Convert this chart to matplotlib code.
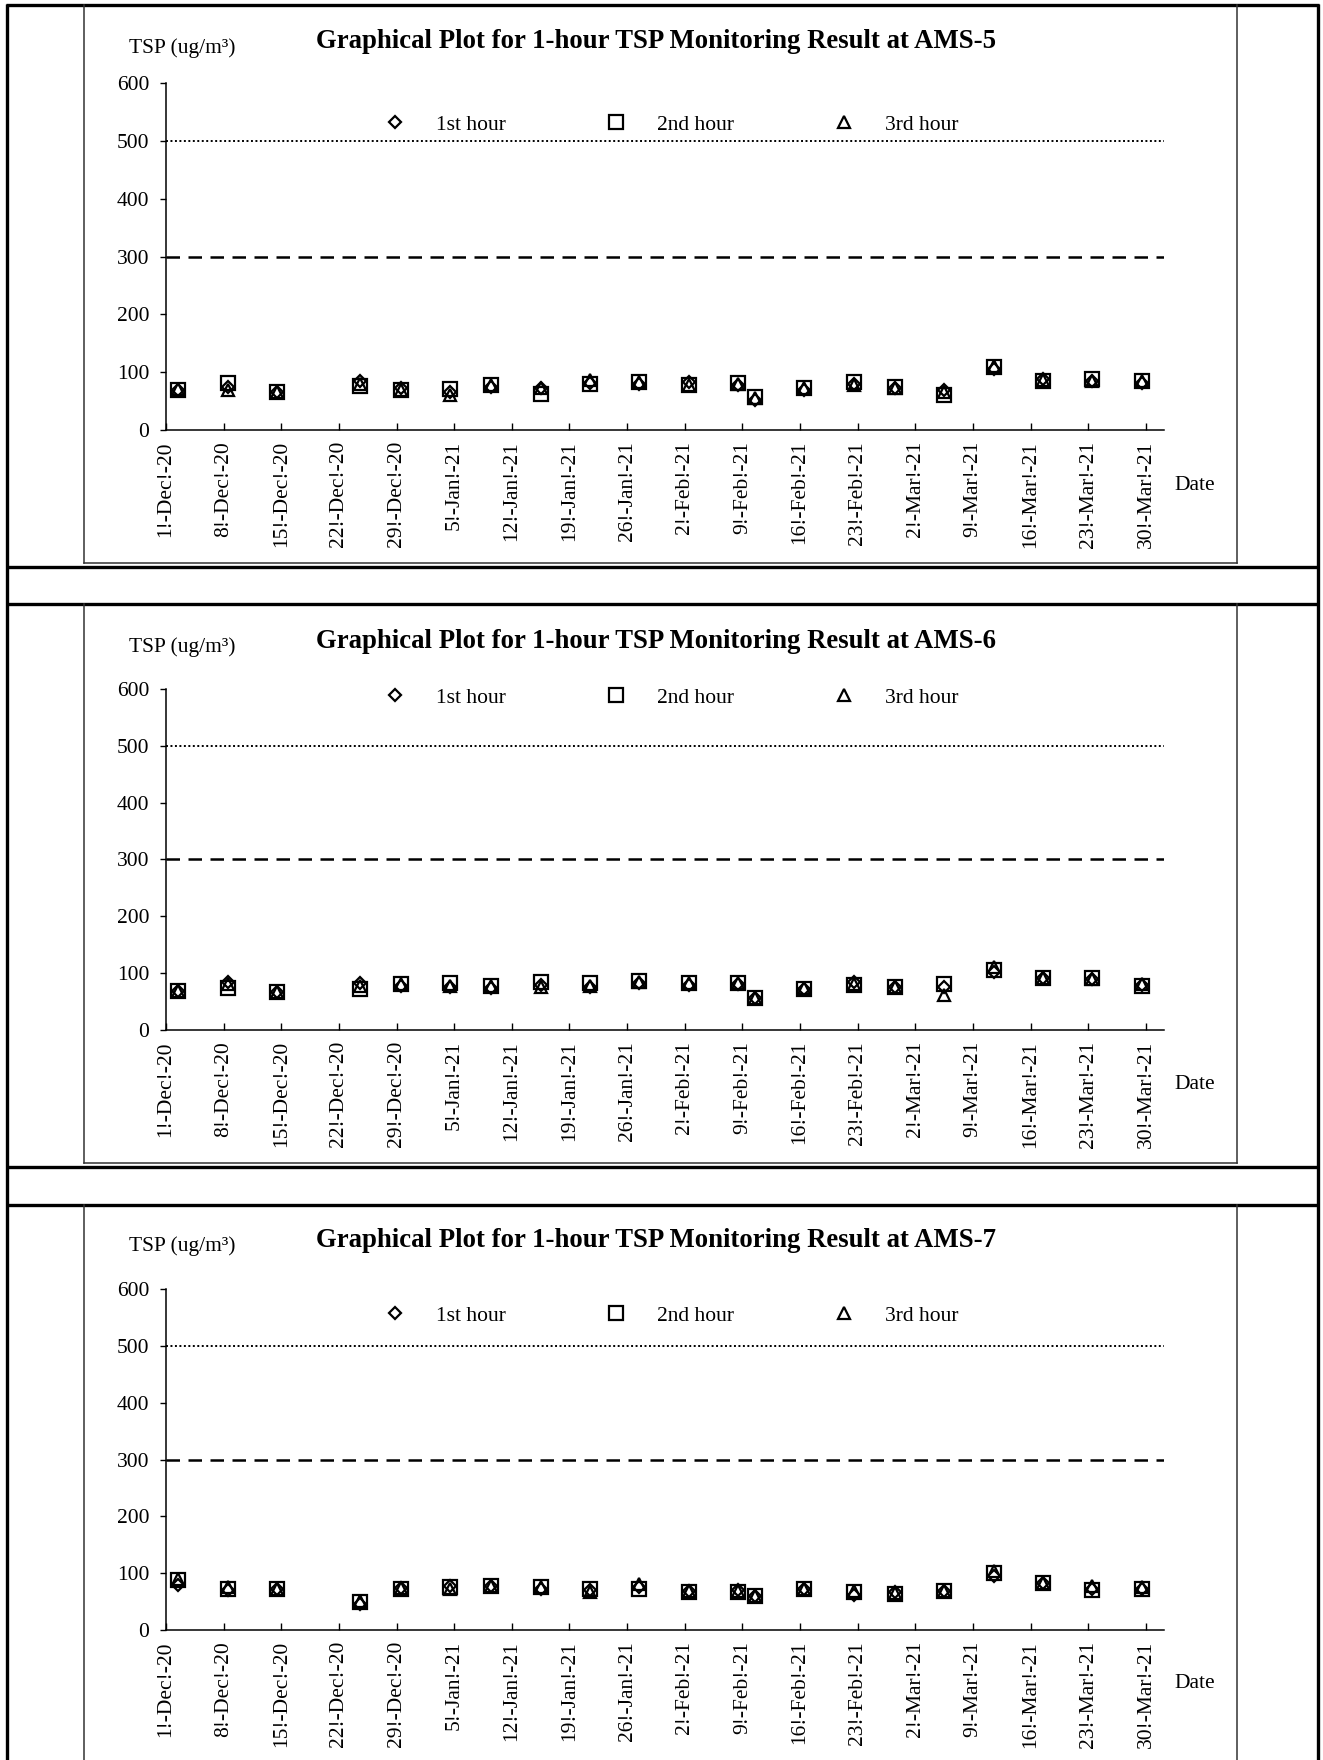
import numpy as np
import pandas as pd
import matplotlib
matplotlib.use("Agg")
import matplotlib.pyplot as plt
import matplotlib.dates as mdates
from matplotlib.lines import Line2D

plt.rcParams["font.family"] = ["Liberation Serif", "DejaVu Serif"]

W, H = 1323, 1760

# sampling dates (same for all stations)
dates = ["2020-12-02", "2020-12-08", "2020-12-14", "2020-12-24", "2020-12-29",
         "2021-01-04", "2021-01-09", "2021-01-15", "2021-01-21", "2021-01-27",
         "2021-02-02", "2021-02-08", "2021-02-10", "2021-02-16", "2021-02-22",
         "2021-02-27", "2021-03-05", "2021-03-11", "2021-03-17", "2021-03-23",
         "2021-03-29"]

stations = ["AMS-5", "AMS-6", "AMS-7"]

ams5_h1 = [70, 75, 66, 84, 72, 65, 74, 73, 82, 80, 83, 77, 52, 70, 80, 73, 70, 105, 88, 85, 82]
ams5_h2 = [70, 81, 65, 76, 69, 71, 78, 63, 80, 83, 77, 81, 57, 73, 83, 75, 61, 109, 84, 88, 84]
ams5_h3 = [71, 69, 65, 80, 69, 61, 78, 72, 87, 83, 78, 79, 55, 73, 78, 73, 66, 111, 86, 84, 84]

ams6_h1 = [69, 84, 66, 82, 78, 76, 74, 80, 76, 82, 80, 81, 56, 72, 84, 75, 75, 102, 92, 90, 80]
ams6_h2 = [69, 74, 66, 72, 81, 82, 78, 85, 82, 87, 82, 83, 56, 72, 79, 75, 81, 106, 92, 91, 77]
ams6_h3 = [69, 81, 66, 78, 81, 78, 77, 75, 78, 85, 82, 82, 57, 74, 81, 75, 62, 110, 91, 89, 81]

ams7_h1 = [80, 70, 72, 46, 74, 78, 78, 72, 70, 75, 68, 70, 60, 72, 62, 66, 68, 95, 82, 72, 73]
ams7_h2 = [88, 73, 72, 50, 73, 75, 78, 75, 72, 72, 66, 66, 60, 73, 66, 63, 68, 100, 82, 71, 73]
ams7_h3 = [90, 75, 72, 51, 74, 72, 78, 75, 66, 81, 69, 69, 60, 72, 69, 65, 68, 104, 82, 77, 75]

series = [(ams5_h1, ams5_h2, ams5_h3),
          (ams6_h1, ams6_h2, ams6_h3),
          (ams7_h1, ams7_h2, ams7_h3)]

hour_labels = ["1st hour", "2nd hour", "3rd hour"]
limit_1h = 500   # dotted
action_lvl = 300  # dashed

tick_dates = pd.date_range("2020-12-01", "2021-03-30", freq="7D")
tick_labels = ["1!-Dec!-20", "8!-Dec!-20", "15!-Dec!-20", "22!-Dec!-20", "29!-Dec!-20",
               "5!-Jan!-21", "12!-Jan!-21", "19!-Jan!-21", "26!-Jan!-21", "2!-Feb!-21",
               "9!-Feb!-21", "16!-Feb!-21", "23!-Feb!-21", "2!-Mar!-21", "9!-Mar!-21",
               "16!-Mar!-21", "23!-Mar!-21", "30!-Mar!-21"]

x = mdates.date2num(pd.to_datetime(dates)) + 0.5   # excel centres points in the day
x0 = mdates.date2num(pd.Timestamp("2020-12-01"))

# per-panel layout in pixels: axes top, axes bottom, legend y (axes frac), title y, ylabel y, "Date" y
layout = [(83, 430, 0.880, 41, 48, 485),
          (689, 1030, 0.974, 641, 647, 1084),
          (1289, 1630, 0.921, 1240, 1246, 1683)]


def fx(px):
    return px / W


def fy(py):
    return 1 - py / H


fig = plt.figure(figsize=(W / 100, H / 100), dpi=100)

# table / frame lines
thick = dict(color="black", lw=2.4, solid_capstyle="butt")
thin = dict(color="#333333", lw=1.1)
fig.add_artist(Line2D([fx(7), fx(7)], [fy(4), fy(H + 5)], **thick))
fig.add_artist(Line2D([fx(1318), fx(1318)], [fy(4), fy(H + 5)], **thick))
for yy in [5, 567, 604, 1167, 1205]:
    fig.add_artist(Line2D([fx(6), fx(1319)], [fy(yy), fy(yy)], **thick))
for top, bot in [(5, 563), (604, 1163), (1205, H + 5)]:
    fig.add_artist(Line2D([fx(84), fx(84)], [fy(top), fy(bot)], **thin))
    fig.add_artist(Line2D([fx(1237), fx(1237)], [fy(top), fy(bot)], **thin))
    if bot < H:
        fig.add_artist(Line2D([fx(84), fx(1237)], [fy(bot), fy(bot)], **thin))

markers = [("D", 6.3), ("s", 9.5), ("^", 9.0)]

for name, (h1, h2, h3), (atop, abot, leg_y, ty, ly, dy) in zip(stations, series, layout):
    ax = fig.add_axes([fx(166), fy(abot), fx(1164) - fx(166), (abot - atop) / H])
    for vals, (m, ms), lab in zip((h1, h2, h3), markers, hour_labels):
        ax.plot(x, vals, ls="none", marker=m, ms=ms, mfc="none", mec="black",
                mew=1.6, label=lab)
    ax.axhline(limit_1h, color="black", lw=1.4, ls=(0, (1, 1.3)))
    ax.axhline(action_lvl, color="black", lw=1.8, ls=(0, (5.4, 3.4)))

    ax.set_ylim(0, 600)
    ax.set_yticks(range(0, 601, 100))
    ax.set_xlim(x0, x0 + 121.2)
    ax.set_xticks(mdates.date2num(tick_dates))
    ax.set_xticklabels(tick_labels, rotation=90, va="top", ha="center")
    for s in ["top", "right"]:
        ax.spines[s].set_visible(False)
    for s in ["left", "bottom"]:
        ax.spines[s].set_linewidth(1.1)
    ax.tick_params(axis="x", direction="in", length=5, width=1.0, pad=8, labelsize=15.5)
    ax.tick_params(axis="y", direction="out", length=4, width=1.0, pad=8, labelsize=15.5)

    ax.legend(loc="center", bbox_to_anchor=(0.501, leg_y), ncol=3, frameon=False,
              numpoints=1, handlelength=2.0, handletextpad=0.9, columnspacing=4.1,
              borderpad=0, fontsize=15.5)

    fig.text(fx(656), fy(ty), f"Graphical Plot for 1-hour TSP Monitoring Result at {name}",
             ha="center", va="center", fontsize=19.3, fontweight="bold")
    fig.text(fx(129), fy(ly), "TSP (ug/m³)", ha="left", va="center", fontsize=15.5)
    fig.text(fx(1174), fy(dy), "Date", ha="left", va="center", fontsize=15.5)

fig.savefig("out.png", dpi=100)
print("Done.")
